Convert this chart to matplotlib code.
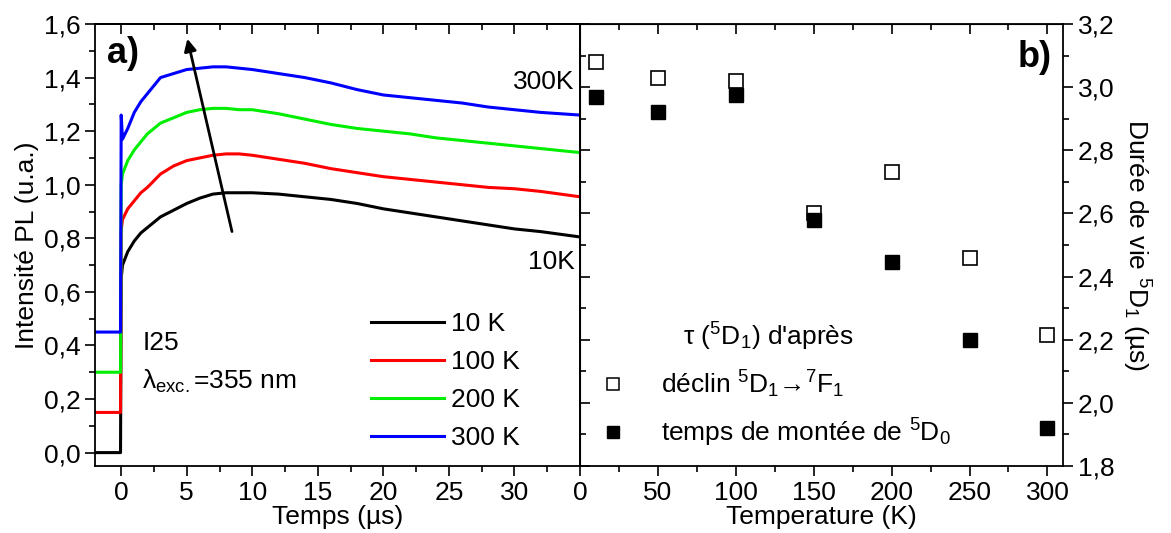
import matplotlib
matplotlib.use('Agg')
import matplotlib.pyplot as plt
from matplotlib.ticker import FuncFormatter, MultipleLocator, FixedLocator
from matplotlib.lines import Line2D

plt.rcParams['font.family'] = ['Liberation Sans', 'DejaVu Sans']
plt.rcParams['mathtext.fontset'] = 'custom'
plt.rcParams['mathtext.rm'] = 'Liberation Sans'
plt.rcParams['mathtext.it'] = 'Liberation Sans:italic'
plt.rcParams['mathtext.default'] = 'regular'
plt.rcParams['font.size'] = 19

# --- panel a) PL transients (read off the figure) ---
time_us = [-2, -0.05, 0, 0.1, 0.5, 1, 1.5, 2, 3, 4, 5, 6, 7, 8, 9, 10,
           12, 14, 16, 18, 20, 22, 24, 26, 28, 30, 32, 35]
pl_10K = [0.0, 0.0, 0.65, 0.70, 0.75, 0.79, 0.82, 0.84, 0.88, 0.905, 0.93, 0.95, 0.965, 0.97,
          0.97, 0.97, 0.965, 0.955, 0.945, 0.93, 0.91, 0.895, 0.88, 0.865, 0.85, 0.835, 0.825, 0.805]
pl_100K = [0.15, 0.15, 0.83, 0.87, 0.91, 0.94, 0.97, 0.99, 1.04, 1.07, 1.09, 1.10, 1.11, 1.115,
           1.115, 1.11, 1.095, 1.08, 1.06, 1.045, 1.03, 1.02, 1.01, 1.0, 0.99, 0.985, 0.975, 0.955]
pl_200K = [0.30, 0.30, 1.00, 1.04, 1.09, 1.13, 1.16, 1.19, 1.23, 1.25, 1.27, 1.28, 1.285, 1.285,
           1.28, 1.28, 1.265, 1.245, 1.225, 1.21, 1.20, 1.19, 1.175, 1.165, 1.155, 1.145, 1.135, 1.12]
pl_300K = [0.45, 0.45, 1.26, 1.17, 1.21, 1.27, 1.31, 1.34, 1.40, 1.415, 1.43, 1.435, 1.44, 1.44,
           1.435, 1.43, 1.415, 1.40, 1.38, 1.355, 1.335, 1.325, 1.315, 1.305, 1.29, 1.28, 1.27, 1.26]
curve_labels = ['10 K', '100 K', '200 K', '300 K']
curve_colors = ['black', 'red', '#00ee00', 'blue']

# --- panel b) lifetimes ---
temperatures = [10, 50, 100, 150, 200, 250, 300]
tau_decline = [3.08, 3.03, 3.02, 2.60, 2.73, 2.46, 2.215]
tau_rise = [2.97, 2.92, 2.975, 2.58, 2.445, 2.20, 1.92]


def comma(v, pos):
    return f'{v:.1f}'.replace('.', ',')


def style_ticks(a, direction):
    a.tick_params(which='both', direction=direction, width=1.2)
    a.tick_params(which='major', length=7)
    a.tick_params(which='minor', length=4)


fig = plt.figure(figsize=(11.71, 5.33), dpi=100)
ax1 = fig.add_axes([0.0811, 0.1257, 0.4142, 0.8293])
ax2 = fig.add_axes([0.4953, 0.1257, 0.4125, 0.8293])
ax2.set_facecolor('none')

for ax in (ax1, ax2):
    for s in ax.spines.values():
        s.set_linewidth(1.3)

# panel a
for y, lab, c in zip([pl_10K, pl_100K, pl_200K, pl_300K], curve_labels, curve_colors):
    ax1.plot(time_us, y, color=c, lw=2.2, label=lab)
ax1.set_xlim(-2, 35)
ax1.set_ylim(-0.05, 1.6)
ax1.xaxis.set_major_locator(FixedLocator([0, 5, 10, 15, 20, 25, 30]))
ax1.xaxis.set_minor_locator(FixedLocator([-2.5, 2.5, 7.5, 12.5, 17.5, 22.5, 27.5, 32.5]))
ax1.yaxis.set_major_locator(MultipleLocator(0.2))
ax1.yaxis.set_minor_locator(MultipleLocator(0.1))
ax1.yaxis.set_major_formatter(FuncFormatter(comma))
style_ticks(ax1, 'out')
ax1.set_xlabel('Temps (µs)', labelpad=0)
ax1.set_ylabel('Intensité PL (u.a.)', labelpad=3)
top1 = ax1.secondary_xaxis('top')
top1.xaxis.set_major_locator(FixedLocator([0, 5, 10, 15, 20, 25, 30]))
top1.xaxis.set_minor_locator(FixedLocator([2.5, 7.5, 12.5, 17.5, 22.5, 27.5, 32.5]))
style_ticks(top1, 'in')
top1.tick_params(labeltop=False)
top1.spines['top'].set_linewidth(1.3)

ax1.annotate('', xy=(5.0, 1.555), xytext=(8.5, 0.815),
             arrowprops=dict(arrowstyle='-|>', color='black', lw=2, mutation_scale=18))
ax1.text(-1.1, 1.49, 'a)', fontsize=26, fontweight='bold', va='center', ha='left')
ax1.text(34.6, 1.385, '300K', ha='right', va='center')
ax1.text(34.6, 0.71, '10K', ha='right', va='center')
ax1.text(1.6, 0.41, 'I25', ha='left', va='center')
ax1.text(1.6, 0.265, r'$\lambda_{exc.}$=355 nm', ha='left', va='center')
ax1.legend(loc='lower left', bbox_to_anchor=(0.52, -0.018), frameon=False,
           handlelength=2.75, handletextpad=0.3, labelspacing=0.53, fontsize=19)

# panel b
ax2.plot(temperatures, tau_decline, 's', ms=10, mfc='white', mec='black', mew=1.2, zorder=3)
ax2.plot(temperatures, tau_rise, 's', ms=10, mfc='black', mec='black', zorder=4)
ax2.set_xlim(0, 310)
ax2.set_ylim(1.8, 3.2)
ax2.xaxis.set_major_locator(MultipleLocator(50))
ax2.xaxis.set_minor_locator(MultipleLocator(25))
ax2.yaxis.set_major_locator(MultipleLocator(0.2))
ax2.yaxis.set_minor_locator(MultipleLocator(0.1))
ax2.yaxis.set_major_formatter(FuncFormatter(comma))
ax2.yaxis.tick_right()
ax2.yaxis.set_label_position('right')
style_ticks(ax2, 'out')
ax2.set_xlabel('Temperature (K)', labelpad=0)
ax2.set_ylabel('Durée de vie $^5$D$_1$ (µs)', rotation=270, labelpad=27)
left2 = ax2.secondary_yaxis('left')
left2.yaxis.set_major_locator(MultipleLocator(0.2))
left2.yaxis.set_minor_locator(MultipleLocator(0.1))
style_ticks(left2, 'in')
left2.tick_params(labelleft=False)
top2 = ax2.secondary_xaxis('top')
top2.xaxis.set_major_locator(MultipleLocator(50))
top2.xaxis.set_minor_locator(MultipleLocator(25))
style_ticks(top2, 'in')
top2.tick_params(labeltop=False)
ax2.text(303, 3.095, 'b)', fontsize=26, fontweight='bold', va='center', ha='right')

handles = [Line2D([], [], ls='none', marker='s', ms=8, mfc='white', mec='black', mew=1.1),
           Line2D([], [], ls='none', marker='s', ms=8, mfc='black', mec='black')]
ax2.legend(handles, ['déclin $^5$D$_1$→$^7$F$_1$', 'temps de montée de $^5$D$_0$'],
           title="τ ($^5$D$_1$) d'après", title_fontsize=19, fontsize=19,
           loc='lower left', bbox_to_anchor=(-0.035, -0.015), frameon=False,
           handletextpad=0.8, labelspacing=0.62)

fig.savefig('out.png', dpi=100)
